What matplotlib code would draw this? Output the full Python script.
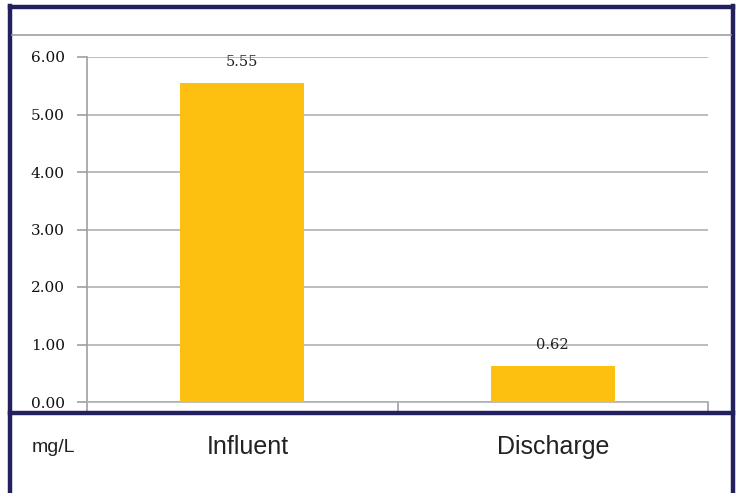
import matplotlib
matplotlib.use("Agg")
import matplotlib.pyplot as plt
from matplotlib.lines import Line2D

categories = ["Influent", "Discharge"]
values = [5.55, 0.62]
yticks = [0, 1, 2, 3, 4, 5, 6]
unit_label = "mg/L"

W, H = 740, 493
fig = plt.figure(figsize=(W / 100, H / 100), dpi=100)
fig.patch.set_facecolor("white")

def fx(x):
    return x / W

def fy(y):
    return 1 - y / H

navy = "#23205f"
# frame lines
fig.add_artist(Line2D([fx(10), fx(733)], [fy(7), fy(7)], color=navy, lw=3.2, transform=fig.transFigure))
fig.add_artist(Line2D([fx(10), fx(10)], [fy(5.5), fy(493)], color=navy, lw=3.2, transform=fig.transFigure))
fig.add_artist(Line2D([fx(733), fx(733)], [fy(5.5), fy(493)], color=navy, lw=3.2, transform=fig.transFigure))
fig.add_artist(Line2D([fx(10), fx(733)], [fy(413), fy(413)], color=navy, lw=3.2, transform=fig.transFigure))
fig.add_artist(Line2D([fx(12), fx(731)], [fy(35), fy(35)], color="#a0a0a0", lw=1.2, transform=fig.transFigure))

ax = fig.add_axes([fx(87), fy(402), fx(708) - fx(87), fy(57) - fy(402)])
x = list(range(len(categories)))
bars = ax.bar(x, values, width=0.4, color="#fdc010", zorder=3)
ax.set_xlim(-0.5, len(categories) - 0.5)
ax.set_ylim(0, 6)
ax.set_yticks(yticks)
ax.set_yticklabels([f"{v:.2f}" for v in yticks], fontfamily="DejaVu Serif", fontsize=11,
                   color="#111111")
ax.yaxis.grid(True, color="#b0b0b0", lw=1.2, zorder=0)
ax.tick_params(axis="y", length=7, color="#a0a0a0", width=1.2, pad=9)
ax.set_xticks([-0.5, 0.5, 1.5])
ax.set_xticklabels([])
ax.tick_params(axis="x", length=7, color="#a0a0a0", width=1.2)
for s in ["top", "right"]:
    ax.spines[s].set_visible(False)
ax.spines["left"].set_color("#a0a0a0")
ax.spines["bottom"].set_color("#b0b0b0")
ax.spines["left"].set_linewidth(1.2)
ax.spines["bottom"].set_linewidth(1.2)
for xi, v in zip(x, values):
    ax.annotate(f"{v:.2f}", (xi, v), xytext=(0, 10), textcoords="offset points",
                ha="center", va="bottom", fontfamily="DejaVu Serif", fontsize=10.5, color="#222222")

fig.text(fx(32), fy(447), unit_label, fontfamily="Liberation Sans", fontsize=14,
         ha="left", va="center", color="#222222")
for xi, c in zip(x, categories):
    xf = ax.transData.transform((xi, 0))[0] / (W)
    fig.text(xf + fx(6) if xi == 0 else xf, fy(447), c, fontfamily="Liberation Sans", fontsize=18,
             ha="center", va="center", color="#222222")

fig.savefig("out.png", dpi=100)
